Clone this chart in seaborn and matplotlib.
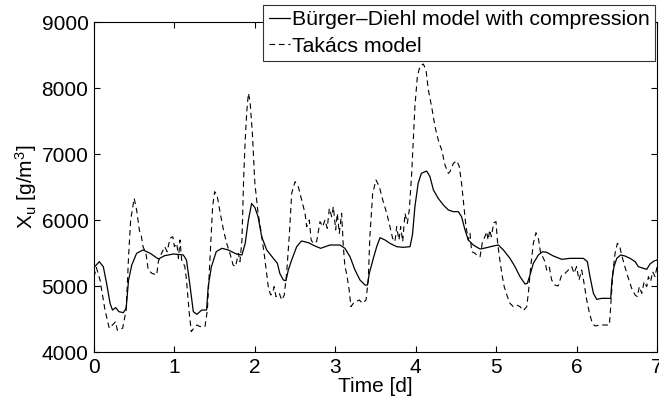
import matplotlib
matplotlib.use("Agg")
import matplotlib.pyplot as plt
import seaborn as sns
import pandas as pd

# Bürger-Diehl model with compression (time [d], X_u [g/m3])
bd_time = [0.00, 0.066, 0.116, 0.157, 0.20, 0.23, 0.27, 0.31, 0.365, 0.40,
           0.43, 0.47, 0.53, 0.61, 0.70, 0.80, 0.88, 0.99, 1.11, 1.15,
           1.19, 1.235, 1.28, 1.34, 1.40, 1.42, 1.46, 1.52, 1.59, 1.67,
           1.77, 1.84, 1.88, 1.92, 1.96, 2.00, 2.04, 2.085, 2.147, 2.23,
           2.28, 2.31, 2.354, 2.387, 2.416, 2.458, 2.52, 2.58, 2.665, 2.748,
           2.818, 2.934, 3.058, 3.12, 3.183, 3.245, 3.307, 3.37, 3.40, 3.423,
           3.473, 3.515, 3.556, 3.618, 3.68, 3.763, 3.846, 3.929, 3.96, 3.99,
           4.03, 4.07, 4.136, 4.177, 4.22, 4.28, 4.344, 4.406, 4.468, 4.53,
           4.57, 4.613, 4.654, 4.716, 4.80, 4.882, 4.965, 5.027, 5.09, 5.172,
           5.234, 5.297, 5.359, 5.388, 5.421, 5.462, 5.525, 5.578, 5.628, 5.711,
           5.815, 5.918, 6.084, 6.134, 6.167, 6.209, 6.25, 6.312, 6.374, 6.424,
           6.44, 6.465, 6.50, 6.548, 6.60, 6.665, 6.727, 6.768, 6.83, 6.872,
           6.913, 6.963, 7.00]
bd_xu = [5280, 5369, 5293, 5040, 4737, 4636, 4672, 4611, 4596, 4662,
         5091, 5318, 5495, 5546, 5495, 5409, 5460, 5485, 5470, 5394,
         5040, 4611, 4571, 4636, 4636, 4990, 5293, 5520, 5571, 5546,
         5485, 5470, 5646, 6000, 6250, 6190, 6050, 5747, 5546, 5419,
         5344, 5192, 5091, 5081, 5242, 5394, 5596, 5682, 5657, 5606,
         5571, 5621, 5621, 5571, 5444, 5242, 5091, 5015, 5015, 5192,
         5419, 5596, 5732, 5697, 5646, 5596, 5586, 5596, 5780, 6200,
         6556, 6707, 6742, 6657, 6455, 6328, 6227, 6152, 6126, 6126,
         6050, 5849, 5697, 5621, 5560, 5581, 5606, 5621, 5546, 5419,
         5293, 5141, 5030, 5041, 5167, 5343, 5470, 5520, 5510, 5455,
         5404, 5419, 5419, 5369, 5141, 4889, 4798, 4813, 4813, 4813,
         5091, 5293, 5419, 5470, 5455, 5419, 5369, 5293, 5268, 5253,
         5333, 5379, 5394]

# Takács model
tk_time = [0.00, 0.03, 0.075, 0.137, 0.19, 0.23, 0.27, 0.29, 0.31, 0.356,
           0.40, 0.43, 0.456, 0.50, 0.53, 0.564, 0.59, 0.61, 0.646, 0.675,
           0.72, 0.78, 0.80, 0.84, 0.88, 0.91, 0.945, 0.98, 1.00, 1.03,
           1.05, 1.07, 1.09, 1.13, 1.15, 1.185, 1.21, 1.24, 1.28, 1.32,
           1.38, 1.41, 1.44, 1.475, 1.50, 1.53, 1.57, 1.61, 1.65, 1.69,
           1.73, 1.76, 1.795, 1.815, 1.84, 1.86, 1.88, 1.90, 1.92, 1.94,
           1.97, 2.00, 2.04, 2.08, 2.12, 2.167, 2.196, 2.22, 2.24, 2.263,
           2.304, 2.333, 2.366, 2.395, 2.43, 2.458, 2.50, 2.54, 2.582, 2.624,
           2.644, 2.677, 2.70, 2.727, 2.768, 2.81, 2.843, 2.872, 2.90, 2.926,
           2.955, 2.976, 3.005, 3.025, 3.05, 3.079, 3.10, 3.12, 3.14, 3.17,
           3.195, 3.224, 3.257, 3.299, 3.34, 3.382, 3.41, 3.43, 3.465, 3.506,
           3.548, 3.59, 3.64, 3.68, 3.713, 3.742, 3.763, 3.792, 3.813, 3.838,
           3.867, 3.896, 3.92, 3.95, 3.97, 3.99, 4.02, 4.053, 4.095, 4.128,
           4.157, 4.198, 4.24, 4.28, 4.323, 4.364, 4.405, 4.426, 4.468, 4.51,
           4.542, 4.57, 4.60, 4.625, 4.654, 4.675, 4.696, 4.737, 4.78, 4.80,
           4.83, 4.86, 4.882, 4.90, 4.92, 4.94, 4.97, 4.998, 5.015, 5.04,
           5.07, 5.10, 5.14, 5.172, 5.214, 5.255, 5.297, 5.338, 5.38, 5.40,
           5.43, 5.462, 5.495, 5.525, 5.553, 5.578, 5.607, 5.628, 5.66, 5.69,
           5.73, 5.77, 5.815, 5.856, 5.898, 5.94, 5.968, 6.00, 6.03, 6.064,
           6.093, 6.126, 6.16, 6.196, 6.23, 6.29, 6.354, 6.408, 6.424, 6.45,
           6.478, 6.507, 6.532, 6.56, 6.60, 6.644, 6.685, 6.727, 6.755, 6.78,
           6.81, 6.84, 6.872, 6.893, 6.92, 6.946, 6.975, 7.00]
tk_xu = [5136, 5280, 5091, 4636, 4359, 4409, 4460, 4330, 4333, 4359,
         4636, 5445, 6000, 6328, 6152, 5848, 5747, 5596, 5495, 5243,
         5192, 5167, 5369, 5495, 5596, 5520, 5722, 5747, 5596, 5646,
         5419, 5697, 5394, 5293, 5091, 4586, 4308, 4359, 4409, 4384,
         4384, 4636, 5344, 6202, 6430, 6379, 6101, 5848, 5646, 5495,
         5318, 5293, 5495, 5369, 5697, 6600, 7212, 7650, 7920, 7800,
         7300, 6560, 6106, 5800, 5450, 4990, 4864, 4889, 4990, 4839,
         4889, 4788, 4864, 5192, 5798, 6404, 6581, 6505, 6303, 6101,
         5899, 6000, 5697, 5646, 5672, 5975, 5899, 6000, 5874, 6177,
         6050, 6202, 5848, 6101, 5798, 6101, 5596, 5293, 5192, 4965,
         4687, 4737, 4763, 4788, 4737, 4788, 5091, 5747, 6404, 6606,
         6505, 6303, 6101, 5899, 5722, 5672, 5899, 5697, 5899, 5672,
         6101, 5950, 6152, 6707, 7212, 7717, 8172, 8333, 8363, 8273,
         7970, 7717, 7414, 7212, 7061, 6833, 6707, 6732, 6858, 6899,
         6808, 6555, 6202, 5899, 5697, 5798, 5520, 5495, 5444, 5444,
         5672, 5747, 5823, 5697, 5849, 5747, 5960, 5975, 5697, 5444,
         5192, 4990, 4839, 4737, 4687, 4712, 4687, 4627, 4687, 4889,
         5293, 5646, 5808, 5722, 5495, 5444, 5369, 5242, 5293, 5091,
         5015, 5000, 5167, 5192, 5242, 5293, 5192, 5293, 5091, 5242,
         5040, 4788, 4586, 4434, 4394, 4409, 4409, 4409, 4687, 5192,
         5495, 5646, 5621, 5470, 5293, 5116, 4965, 4864, 4839, 4990,
         4889, 5066, 4990, 5141, 5066, 5217, 5141, 5293]

bd = pd.DataFrame({"t": bd_time, "xu": bd_xu})
tk = pd.DataFrame({"t": tk_time, "xu": tk_xu})

sns.set_style("ticks")
plt.rcParams["font.family"] = ["Liberation Sans", "DejaVu Sans"]
plt.rcParams["mathtext.default"] = "regular"
plt.rcParams["text.color"] = "black"
plt.rcParams["axes.labelcolor"] = "black"

fig = plt.figure(figsize=(6.59, 4.0), dpi=100)
ax = fig.add_axes([0.1426, 0.12, 0.8544, 0.825])

sns.lineplot(data=bd, x="t", y="xu", ax=ax, color="black", lw=0.9,
             estimator=None, sort=False, label="Bürger\u2013Diehl model with compression")
sns.lineplot(data=tk, x="t", y="xu", ax=ax, color="black", lw=0.8,
             estimator=None, sort=False, linestyle=(0, (5, 3.5)), label="Takács model")

ax.set_xlim(0, 7)
ax.set_ylim(4000, 9000)
ax.set_xticks(range(0, 8))
ax.set_yticks(range(4000, 9001, 1000))
ax.set_xlabel("Time [d]", fontsize=15, labelpad=0)
ax.set_ylabel("X$_u$ [g/m$^3$]", fontsize=15, labelpad=2)
ax.tick_params(direction="in", length=4, width=0.8, labelsize=15,
               top=True, right=True, pad=4, colors="black")
for s in ax.spines.values():
    s.set_visible(True)
    s.set_linewidth(0.8)
    s.set_color("black")

leg = ax.legend(loc="upper right", bbox_to_anchor=(0.9965, 1.052), fontsize=15.3,
                frameon=True, fancybox=False, framealpha=1, edgecolor="#333333",
                handlelength=1.0, handletextpad=0.1, labelspacing=0.35,
                borderpad=0.25, borderaxespad=0)
leg.get_frame().set_linewidth(0.8)

fig.savefig("out.png", dpi=100)
plt.close(fig)
